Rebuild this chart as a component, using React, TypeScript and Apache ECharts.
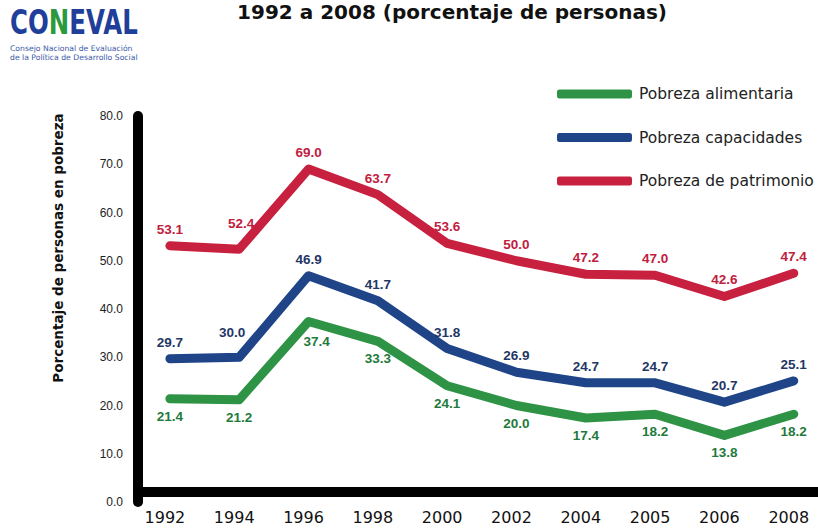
import React, { useEffect, useRef } from "react";
import * as echarts from "echarts";

const years = ["1992", "1994", "1996", "1998", "2000", "2002", "2004", "2005", "2006", "2008"];
const alimentaria = [21.4, 21.2, 37.4, 33.3, 24.1, 20.0, 17.4, 18.2, 13.8, 18.2];
const capacidades = [29.7, 30.0, 46.9, 41.7, 31.8, 26.9, 24.7, 24.7, 20.7, 25.1];
const patrimonio = [53.1, 52.4, 69.0, 63.7, 53.6, 50.0, 47.2, 47.0, 42.6, 47.4];
const seriesNames = ["Pobreza alimentaria", "Pobreza capacidades", "Pobreza de patrimonio"];
const yTicks = [0, 10, 20, 30, 40, 50, 60, 70, 80];

// label nudges (styling only)
const greenNudge: Record<number, number[]> = { 2: [8, 2] };
const blueNudge: Record<number, number[]> = { 1: [-7, -8] };
const redNudge: Record<number, number[]> = { 1: [2, -9] };

const toData = (arr: number[], nudge: Record<number, number[]>) =>
  arr.map((v, i) => (nudge[i] ? { value: [i, v], label: { offset: nudge[i] } } : { value: [i, v] }));

export default function App() {
  const ref = useRef<HTMLDivElement>(null);
  useEffect(() => {
    if (!ref.current) return;
    const chart = echarts.init(ref.current, null, { renderer: "svg" });
    const mkSeries = (
      name: string,
      arr: number[],
      nudge: Record<number, number[]>,
      color: string,
      labelColor: string,
      pos: string,
      dist: number
    ) => ({
      name,
      type: "line",
      data: toData(arr, nudge),
      symbol: "circle",
      symbolSize: 1,
      showSymbol: true,
      itemStyle: { color },
      lineStyle: { color, width: 9, cap: "round", join: "round" },
      label: {
        show: true,
        position: pos,
        distance: dist,
        color: labelColor,
        fontFamily: "Liberation Sans",
        fontWeight: "bold",
        fontSize: 13.5,
        formatter: (p: any) => Number(p.value[1]).toFixed(1),
      },
      z: 3,
    });
    chart.setOption({
      animation: false,
      backgroundColor: "#ffffff",
      title: {
        text: "1992 a 2008 (porcentaje de personas)",
        left: 447,
        textAlign: "center",
        top: -3,
        textStyle: { fontFamily: "DejaVu Sans", fontWeight: "bold", fontSize: 20, color: "#111" },
      },
      legend: {
        orient: "vertical",
        left: 557,
        top: 83,
        padding: 0,
        itemWidth: 75,
        itemHeight: 9,
        itemGap: 21.5,
        icon: "roundRect",
        data: seriesNames,
        textStyle: { fontFamily: "DejaVu Sans", fontSize: 15.5, color: "#222", lineHeight: 18, padding: [4, 0, 0, 2] },
      },
      grid: { left: 138, right: 0, top: 116, bottom: 27 },
      xAxis: {
        type: "value",
        min: -0.46,
        max: 9.35,
        offset: -10,
        splitLine: { show: false },
        axisTick: { show: false },
        axisLine: { show: true, onZero: false, lineStyle: { color: "#000", width: 10 } },
        axisLabel: {
          customValues: years.map((_, i) => i),
          formatter: (v: number) => years[Math.round(v)] ?? "",
          margin: 17,
          padding: [0, 10, 0, 0],
          fontFamily: "DejaVu Sans",
          fontSize: 16,
          color: "#111",
        },
      },
      yAxis: {
        type: "value",
        min: yTicks[0],
        max: yTicks[yTicks.length - 1],
        interval: 10,
        splitLine: { show: false },
        axisTick: { show: false },
        axisLine: { show: true, onZero: false, lineStyle: { color: "#000", width: 10 } },
        axisLabel: {
          margin: 15,
          fontFamily: "Liberation Sans",
          fontSize: 12,
          color: "#222",
          formatter: (v: number) => v.toFixed(1),
        },
      },
      graphic: [
        {
          type: "text",
          x: 10,
          y: 6,
          scaleX: 0.72,
          style: {
            text: "{b|CO}{g|N}{b|EVAL}",
            verticalAlign: "top",
            rich: {
              b: { fontFamily: "DejaVu Sans", fontWeight: 900, fontSize: 34, fill: "#1f3f9a" },
              g: { fontFamily: "DejaVu Sans", fontWeight: 900, fontSize: 34, fill: "#2c9a3c" },
            },
          },
        },
        {
          type: "text",
          left: 10,
          top: 44,
          style: {
            text: "Consejo Nacional de Evaluación\nde la Política de Desarrollo Social",
            fontFamily: "DejaVu Sans",
            fontSize: 7.7,
            lineHeight: 9,
            fill: "#3a5aa8",
          },
        },
        {
          type: "text",
          x: 58,
          y: 248,
          rotation: Math.PI / 2,
          style: {
            text: "Porcentaje de personas en pobreza",
            fontFamily: "DejaVu Sans",
            fontWeight: "bold",
            fontSize: 13.5,
            fill: "#111",
            align: "center",
            verticalAlign: "middle",
          },
        },
      ],
      series: [
        mkSeries(seriesNames[0], alimentaria, greenNudge, "#2f9346", "#1f7a3c", "bottom", 10),
        mkSeries(seriesNames[1], capacidades, blueNudge, "#1f4588", "#1f3766", "top", 9),
        mkSeries(seriesNames[2], patrimonio, redNudge, "#c8203f", "#c0203e", "top", 9),
      ],
    });
    return () => chart.dispose();
  }, []);
  return <div ref={ref} style={{ position: "absolute", left: 0, top: 0, width: 818, height: 529 }} />;
}
